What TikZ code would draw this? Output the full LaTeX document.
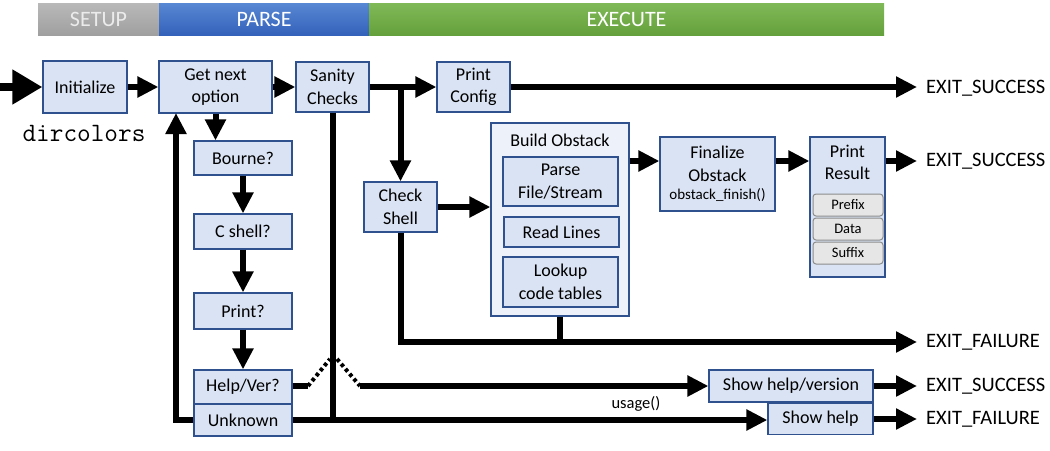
\documentclass[tikz,border=0pt]{standalone}
\usepackage{fontspec}
\setmainfont{Carlito}
\usetikzlibrary{arrows.meta}

\definecolor{boxfill}{RGB}{218,227,243}
\definecolor{boxline}{RGB}{47,82,143}
\definecolor{grpfill}{RGB}{237,241,249}
\definecolor{pillfill}{RGB}{230,230,230}
\definecolor{pillline}{RGB}{140,140,140}

\begin{document}
\begin{tikzpicture}[x=1pt,y=1pt,yscale=-1,
  blk/.style={draw=boxline,fill=boxfill,line width=1.2pt,inner sep=0pt,align=center,font=\fontsize{18}{22.5}\selectfont},
  pill/.style={draw=pillline,fill=pillfill,rounded corners=3pt,line width=1pt,minimum width=70,minimum height=22,inner sep=0pt,font=\fontsize{14.5}{16}\selectfont},
  flow/.style={line width=6pt,-{Triangle[length=21pt,width=20pt]}},
  wire/.style={line width=6pt},
  hop/.style={line width=4pt,dash pattern=on 3.5pt off 3pt},
  exitlbl/.style={anchor=west,inner xsep=9pt,inner ysep=0pt,font=\fontsize{20.5}{23}\selectfont},
  band/.style={minimum height=32,inner sep=0pt,font=\fontsize{22}{25}\selectfont}]
\useasboundingbox (0,0) rectangle (1050,450);

%Shape: Rectangle (phase bands)
\node [band,minimum width=121,top color=gray!55,bottom color=gray!75,text=white!92!black] (setup) at (98.5,19) {SETUP};
\node [band,minimum width=210,top color={rgb,255:red,88;green,135;blue,212},bottom color={rgb,255:red,52;green,98;blue,186},text=white] (parse) at (264,19) {PARSE};
\node [band,minimum width=515,top color={rgb,255:red,128;green,186;blue,88},bottom color={rgb,255:red,100;green,160;blue,60},text=white] (execute) at (626.5,19) {EXECUTE};

%Shape: Rectangle (setup and parse)
\node [blk,minimum width=84,minimum height=52] (init) at (85,87) {Initialize};
\node [blk,minimum width=113,minimum height=52] (getopt) at (215.5,87) {Get next\\option};
\node [blk,minimum width=73,minimum height=50] (sanity) at (332.5,87) {Sanity\\Checks};
\node [blk,minimum width=98,minimum height=34] (bourne) at (243,158) {Bourne?};
\node [blk,minimum width=98,minimum height=35] (cshell) at (243,231.5) {C shell?};
\node [blk,minimum width=98,minimum height=36] (printq) at (243,311) {Print?};
\node [blk,minimum width=98,minimum height=34] (helpver) at (243,387) {Help/Ver?};
\node [blk,minimum width=98,minimum height=32] (unknown) at (243,420) {Unknown};

%Shape: Rectangle (execute)
\node [blk,minimum width=73,minimum height=50] (pconfig) at (473.5,87) {Print\\Config};
\node [blk,minimum width=73,minimum height=50] (chkshell) at (400.5,207) {Check\\Shell};
\node [blk,fill=grpfill,minimum width=138,minimum height=193] (build) at (560,219.5) {};
\node [font=\fontsize{18}{22.5}\selectfont,inner sep=0pt] (buildlbl) at (560,140) {Build Obstack};
\node [blk,minimum width=115,minimum height=49] (parsefs) at (560.5,181.5) {Parse\\File/Stream};
\node [blk,minimum width=115,minimum height=30] (readl) at (561.5,232) {Read Lines};
\node [blk,minimum width=115,minimum height=50] (lookup) at (560.5,282) {Lookup\\code tables};
\node [blk,minimum width=115,minimum height=74] (final) at (717.5,174) {Finalize\\Obstack\\[-4pt]{\fontsize{15}{17}\selectfont obstack\_finish()}};
\node [blk,minimum width=75,minimum height=140] (presult) at (847.5,207) {};
\node [font=\fontsize{18}{22.5}\selectfont,align=center,inner sep=0pt] (presultlbl) at (847.5,162.5) {Print\\Result};
\node [pill] (prefix) at (848,205) {Prefix};
\node [pill] (data) at (848,229) {Data};
\node [pill] (suffix) at (848,253) {Suffix};
\node [blk,minimum width=164,minimum height=32] (showhv) at (791,386) {Show help/version};
\node [blk,minimum width=105,minimum height=31] (showh) at (820.5,419) {Show help};

% Text Node
\node [exitlbl] (ex1) at (917,88) {EXIT\_SUCCESS};
\node [exitlbl] (ex2) at (917,161) {EXIT\_SUCCESS};
\node [exitlbl] (ex3) at (917,342) {EXIT\_FAILURE};
\node [exitlbl] (ex4) at (917,386) {EXIT\_SUCCESS};
\node [exitlbl] (ex5) at (917,419) {EXIT\_FAILURE};
\node [font=\ttfamily\fontsize{26.5}{28}\selectfont,inner sep=0pt] (dirc) at (84,133) {dircolors};
\node [font=\fontsize{16.5}{18}\selectfont,inner sep=0pt] (usage) at (636,404) {usage()};

%Straight Lines
\coordinate (start) at (0,87);
\coordinate (loop) at (176,113);
\coordinate (row2) at (0,161);
\coordinate (hopa) at (308,386);
\coordinate (hopb) at (330,359);
\coordinate (hopc) at (337,359);
\coordinate (hopd) at (360,386);
\draw [line width=8pt,-{Triangle[length=30pt,width=33pt]}] (start) -- (init.west);
\draw [flow] (init.east) -- (getopt.west);
\draw [flow] (getopt.east) -- (sanity.west);
\draw [flow] (sanity.east) -- (pconfig.west);
\draw [flow] (sanity.east -| chkshell.north) -- (chkshell.north);
\draw [flow] (pconfig.east) -- (pconfig.east -| ex1.west);
\draw [flow] (getopt.south) -- (getopt.south |- bourne.north);
\draw [flow] (bourne.south) -- (cshell.north);
\draw [flow] (cshell.south) -- (printq.north);
\draw [flow] (printq.south) -- (helpver.north);
\draw [flow] (unknown.west) -| (loop);
\draw [flow] (chkshell.east) -- (chkshell.east -| build.west);
\draw [flow] (build.east |- row2) -- (final.west |- row2);
\draw [flow] (final.east |- row2) -- (presult.west |- row2);
\draw [flow] (presult.east |- row2) -- (ex2.west);
\draw [flow] (chkshell.south) |- (ex3.west);
\draw [wire] (build.south) -- (build.south |- ex3.west);
\draw [hop] (hopa) -- (hopb);
\draw [hop] (hopc) -- (hopd);
\draw [wire] (helpver.east |- hopa) -- (hopa);
\draw [flow] (hopd) -- (hopd -| showhv.west);
\draw [flow] (showhv.east) -- (ex4.west);
\draw [wire] (sanity.south) -- (sanity.south |- unknown.east);
\draw [flow] (unknown.east) -- (unknown.east -| showh.west);
\draw [flow] (showh.east) -- (ex5.west);

\end{tikzpicture}
\end{document}
